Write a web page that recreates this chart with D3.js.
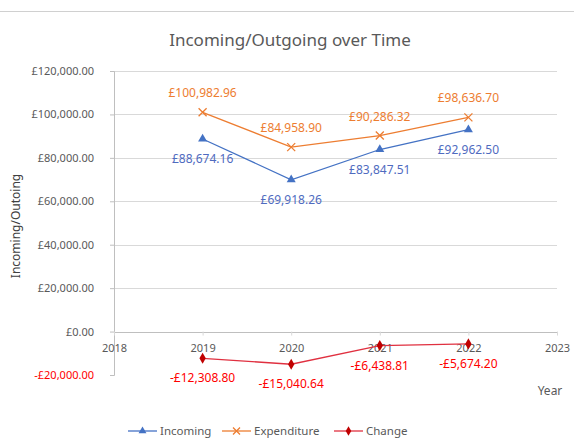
<!DOCTYPE html>
<html>
<head>
<meta charset="utf-8">
<script src="https://cdn.jsdelivr.net/npm/d3@7"></script>
<style>
body { margin: 0; background: #fff; }
text { font-family: "Noto Sans", "Open Sans", sans-serif; }
</style>
</head>
<body>
<svg id="chart"></svg>
<script>
var years = [2019, 2020, 2021, 2022];
var incoming = [88674.16, 69918.26, 83847.51, 92962.50];
var expenditure = [100982.96, 84958.90, 90286.32, 98636.70];
var change = [-12308.80, -15040.64, -6438.81, -5674.20];
var yTicks = [-20000, 0, 20000, 40000, 60000, 80000, 100000, 120000];
var xTicks = [2018, 2019, 2020, 2021, 2022, 2023];

var W = 574, H = 444;
var plotLeft = 114, plotRight = 557, plotTop = 71, plotBottom = 375;

var svg = d3.select("#chart").attr("width", W).attr("height", H);

svg.append("line")
    .attr("x1", 0).attr("x2", W).attr("y1", 11.5).attr("y2", 11.5)
    .attr("stroke", "#d0d0d0");

var x = d3.scaleLinear().domain([2018, 2023]).range([plotLeft, plotRight]);
var y = d3.scaleLinear().domain([-20000, 120000]).range([plotBottom, plotTop]);

var money = function(v) {
    return (v < 0 ? "-" : "") + "£" + d3.format(",.2f")(Math.abs(v));
};

// gridlines
svg.append("g")
    .selectAll("line")
    .data(yTicks.filter(function(d) { return d > -20000; }))
    .enter()
    .append("line")
    .attr("x1", plotLeft).attr("x2", plotRight)
    .attr("y1", function(d) { return Math.round(y(d)) + 0.5; })
    .attr("y2", function(d) { return Math.round(y(d)) + 0.5; })
    .attr("stroke", function(d) { return d === 0 ? "#bfbfbf" : "#d9d9d9"; })
    .attr("stroke-width", 1.2);

// y axis
var yAxis = svg.append("g")
    .attr("transform", `translate(${plotLeft},0)`)
    .call(d3.axisLeft(y).tickValues(yTicks).tickSize(4).tickFormat(money));
yAxis.select(".domain").attr("stroke", "#bfbfbf");
yAxis.selectAll(".tick line").attr("stroke", "#bfbfbf");
yAxis.selectAll(".tick text")
    .attr("font-size", 11)
    .attr("fill", function(d) { return d < 0 ? "#ff0000" : "#595959"; })
    .attr("x", -20);

// x axis at zero
var xAxis = svg.append("g")
    .attr("transform", `translate(0,${y(0)})`)
    .call(d3.axisBottom(x).tickValues(xTicks).tickSize(4).tickFormat(d3.format("d")));
xAxis.select(".domain").remove();
xAxis.selectAll(".tick line").attr("stroke", "#d9d9d9");
xAxis.selectAll(".tick text")
    .attr("font-size", 11)
    .attr("fill", "#595959")
    .attr("y", 13);

// title and axis labels
svg.append("text")
    .attr("x", 290).attr("y", 46)
    .attr("text-anchor", "middle")
    .attr("font-size", 17)
    .attr("fill", "#595959")
    .text("Incoming/Outgoing over Time");

svg.append("text")
    .attr("transform", "rotate(-90)")
    .attr("x", -226).attr("y", 20)
    .attr("text-anchor", "middle")
    .attr("font-size", 12)
    .attr("fill", "#404040")
    .text("Incoming/Outoing");

svg.append("text")
    .attr("x", 550).attr("y", 395)
    .attr("text-anchor", "middle")
    .attr("font-size", 12)
    .attr("fill", "#595959")
    .text("Year");

var series = [
    { name: "Incoming", values: incoming, color: "#4472c4", marker: d3.symbolTriangle, labelColor: "#4f6bbf", dy: 24 },
    { name: "Expenditure", values: expenditure, color: "#ed7d31", marker: "x", labelColor: "#ed7d31", dy: -15 },
    { name: "Change", values: change, color: "#e03040", marker: d3.symbolDiamond, labelColor: "#ff0000", dy: 24, markColor: "#c00000" }
];

function drawMarker(g, s, cx, cy, size) {
    if (s.marker === "x") {
        var r = size;
        g.append("path")
            .attr("d", `M${cx - r},${cy - r}L${cx + r},${cy + r}M${cx - r},${cy + r}L${cx + r},${cy - r}`)
            .attr("stroke", s.color).attr("stroke-width", 1.3).attr("fill", "none");
    } else {
        g.append("path")
            .attr("d", d3.symbol().type(s.marker).size(size * size * 2.2)())
            .attr("transform", `translate(${cx},${cy})`)
            .attr("fill", s.markColor || s.color);
    }
}

var line = d3.line()
    .x(function(d) { return x(d[0]); })
    .y(function(d) { return y(d[1]); });

series.forEach(function(s) {
    var pts = years.map(function(yr, i) { return [yr, s.values[i]]; });
    svg.append("path")
        .datum(pts)
        .attr("fill", "none")
        .attr("stroke", s.color)
        .attr("stroke-width", 1.3)
        .attr("d", line);
    var g = svg.append("g");
    pts.forEach(function(p) { drawMarker(g, s, x(p[0]), y(p[1]), 4); });
    svg.append("g")
        .selectAll("text")
        .data(pts)
        .enter()
        .append("text")
        .attr("x", function(d) { return x(d[0]); })
        .attr("y", function(d) { return y(d[1]) + s.dy; })
        .attr("text-anchor", "middle")
        .attr("font-size", 12)
        .attr("fill", s.labelColor)
        .text(function(d) { return money(d[1]); });
});

// legend
var legendX = [128, 222, 334];
series.forEach(function(s, i) {
    var lx = legendX[i], ly = 431;
    var g = svg.append("g");
    g.append("line")
        .attr("x1", lx).attr("x2", lx + 29).attr("y1", ly).attr("y2", ly)
        .attr("stroke", s.color).attr("stroke-width", 1.3);
    drawMarker(g, s, lx + 14.5, ly, 3.5);
    g.append("text")
        .attr("x", lx + 32).attr("y", ly + 4)
        .attr("font-size", 11.5)
        .attr("fill", "#595959")
        .text(s.name);
});
</script>
</body>
</html>
